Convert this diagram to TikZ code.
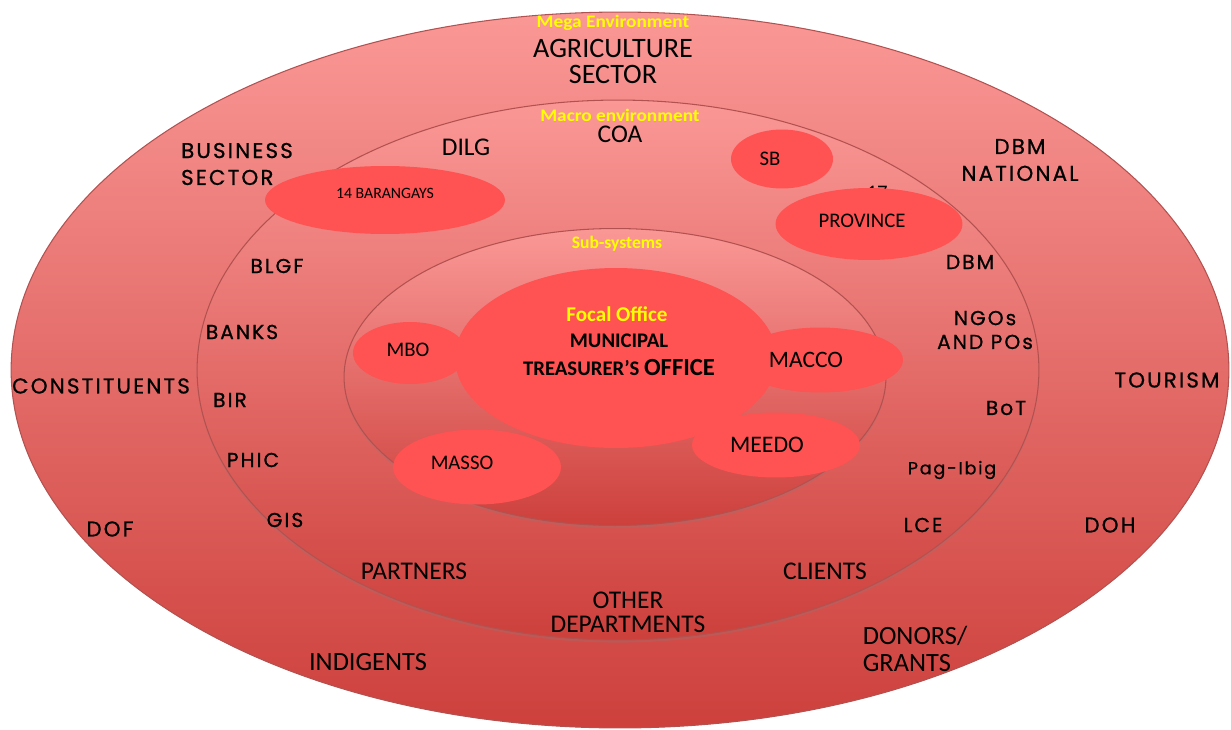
\documentclass[tikz,border=0pt]{standalone}
\usepackage{fontspec}
\setmainfont{Carlito}
\newfontfamily\widefont[LetterSpace=10,FakeBold=0.7]{Poppins}
\usepackage{tikz}
\usetikzlibrary{shapes.geometric,positioning,shadows}
\definecolor{pinktop}{RGB}{250,152,150}
\definecolor{pinkmid}{RGB}{234,114,112}
\definecolor{redbottom}{RGB}{205,64,60}
\definecolor{officered}{RGB}{255,82,82}
\definecolor{ringline}{RGB}{178,82,80}
\definecolor{tagyellow}{RGB}{255,255,0}
\tikzstyle{ring} = [ellipse, draw=ringline, line width=0.6pt, inner sep=0pt, top color=pinktop, middle color=pinkmid, bottom color=redbottom]
\tikzstyle{office} = [ellipse, fill=officered, inner sep=0pt]
\tikzstyle{wide} = [font=\widefont\fontsize{11.5}{15.3}\selectfont, align=center, inner sep=0pt]
\tikzstyle{widebig} = [font=\widefont\fontsize{12.2}{15.3}\selectfont, align=center, inner sep=0pt]
\tikzstyle{plain} = [font=\fontsize{14.5}{13.6}\selectfont, align=center, inner sep=0pt]
\tikzstyle{unit} = [font=\fontsize{11.8}{14}\selectfont, inner sep=0pt]
\tikzstyle{tag} = [font=\bfseries\fontsize{10}{12}\selectfont, text=tagyellow, inner sep=0pt]

\begin{document}
\begin{tikzpicture}[x=0.02cm,y=-0.02cm]
\useasboundingbox (0,0) rectangle (1231,730);
% the three environments
\node (mega) [ring, minimum width=24.36cm, minimum height=14.32cm] at (620,370) {};
\node (macro) [ring, minimum width=16.84cm, minimum height=10.8cm, drop shadow={opacity=0.25,shadow xshift=0pt,shadow yshift=-1.5pt}] at (618,370) {};
\node (sub) [ring, minimum width=10.84cm, minimum height=5.94cm, drop shadow={opacity=0.25,shadow xshift=0pt,shadow yshift=-1.5pt}] at (615,377) {};

% mega environment
\node (megatag) [tag, xscale=1.1] at (613,23) {Mega Environment};
\node (agri) [plain, font=\fontsize{16}{15.3}\selectfont, below of=megatag, node distance=0.77cm] {AGRICULTURE\\SECTOR};
\node (business) [widebig, align=left] at (237,164) {BUSINESS\\SECTOR};
\node (dbmnat) [widebig] at (1020,160) {DBM\\NATIONAL};
\node (constit) [widebig] at (101,386) {CONSTITUENTS};
\node (tourism) [widebig] at (1167,380) {TOURISM};
\node (dof) [widebig] at (110,529) {DOF};
\node (doh) [widebig] at (1110,525) {DOH};
\node (indigents) [plain, font=\fontsize{15}{15.3}\selectfont] at (368,662) {INDIGENTS};
\node (donors) [plain, font=\fontsize{15}{15.3}\selectfont, align=left] at (915,649) {DONORS/\\GRANTS};

% macro environment
\node (macrotag) [tag, xscale=1.1] at (620,115) {Macro  environment};
\node (coa) [plain, below of=macrotag, node distance=0.38cm] {COA};
\node (dilg) [plain] at (466,147) {DILG};
\node (blgf) [wide] at (277,266) {BLGF};
\node (banks) [wide] at (242,332) {BANKS};
\node (bir) [wide] at (230,400) {BIR};
\node (phic) [wide] at (253,460) {PHIC};
\node (gis) [wide] at (285,520) {GIS};
\node (dbm) [wide] at (970,262) {DBM};
\node (ngos) [wide, font=\widefont\fontsize{11.5}{13.6}\selectfont] at (985,330) {NGOs\\AND POs};
\node (bot) [wide] at (1006,408) {BoT};
\node (pagibig) [wide, font=\widefont\fontsize{10}{13.6}\selectfont] at (952,470) {Pag-Ibig};
\node (lce) [wide] at (923,525) {LCE};
\node (partners) [plain] at (414,571) {PARTNERS};
\node (clients) [plain] at (825,571) {CLIENTS};
\node (otherdept) [plain] at (628,612) {OTHER\\DEPARTMENTS};
\node (seventeen) [unit] at (877,193) {17};
\node (barangays) [office, minimum width=4.8cm, minimum height=1.36cm] at (385,200) {};
\node [unit, font=\fontsize{9}{10}\selectfont] at ([yshift=0.14cm]barangays.center) {14 BARANGAYS};
\node (sb) [office, minimum width=2.04cm, minimum height=1.18cm] at (782,159) {};
\node [unit] at ([xshift=-0.24cm]sb.center) {SB};
\node (province) [office, minimum width=3.74cm, minimum height=1.44cm] at (869,224) {};
\node [unit] at ([xshift=-0.14cm,yshift=0.06cm]province.center) {PROVINCE};

% sub-systems
\node (subtag) [tag] at (617,244) {Sub-systems};
\node (focal) [office, minimum width=6.44cm, minimum height=3.6cm] at (616,358) {};
\node (mbo) [office, minimum width=2.28cm, minimum height=1.24cm] at (410,353) {};
\node (macco) [office, minimum width=3.32cm, minimum height=1.3cm] at (820,360) {};
\node (meedo) [office, minimum width=3.36cm, minimum height=1.3cm] at (776,445) {};
\node (masso) [office, minimum width=3.36cm, minimum height=1.5cm] at (477,467) {};
\node (focaltag) [tag, font=\bfseries\fontsize{12}{14}\selectfont] at (617,314) {Focal Office};
\node (mto) [unit, font=\bfseries\fontsize{11.8}{15.9}\selectfont, align=center] at (619,355) {MUNICIPAL\\TREASURER’S {\fontsize{14}{15.9}\selectfont OFFICE}};
\node [unit] at ([xshift=-0.04cm,yshift=0.06cm]mbo.center) {MBO};
\node [unit, font=\fontsize{13.4}{15}\selectfont] at ([xshift=-0.28cm]macco.center) {MACCO};
\node [unit, font=\fontsize{13.5}{15}\selectfont] at ([xshift=-0.18cm]meedo.center) {MEEDO};
\node [unit] at ([xshift=-0.3cm,yshift=0.08cm]masso.center) {MASSO};
\end{tikzpicture}
\end{document}
